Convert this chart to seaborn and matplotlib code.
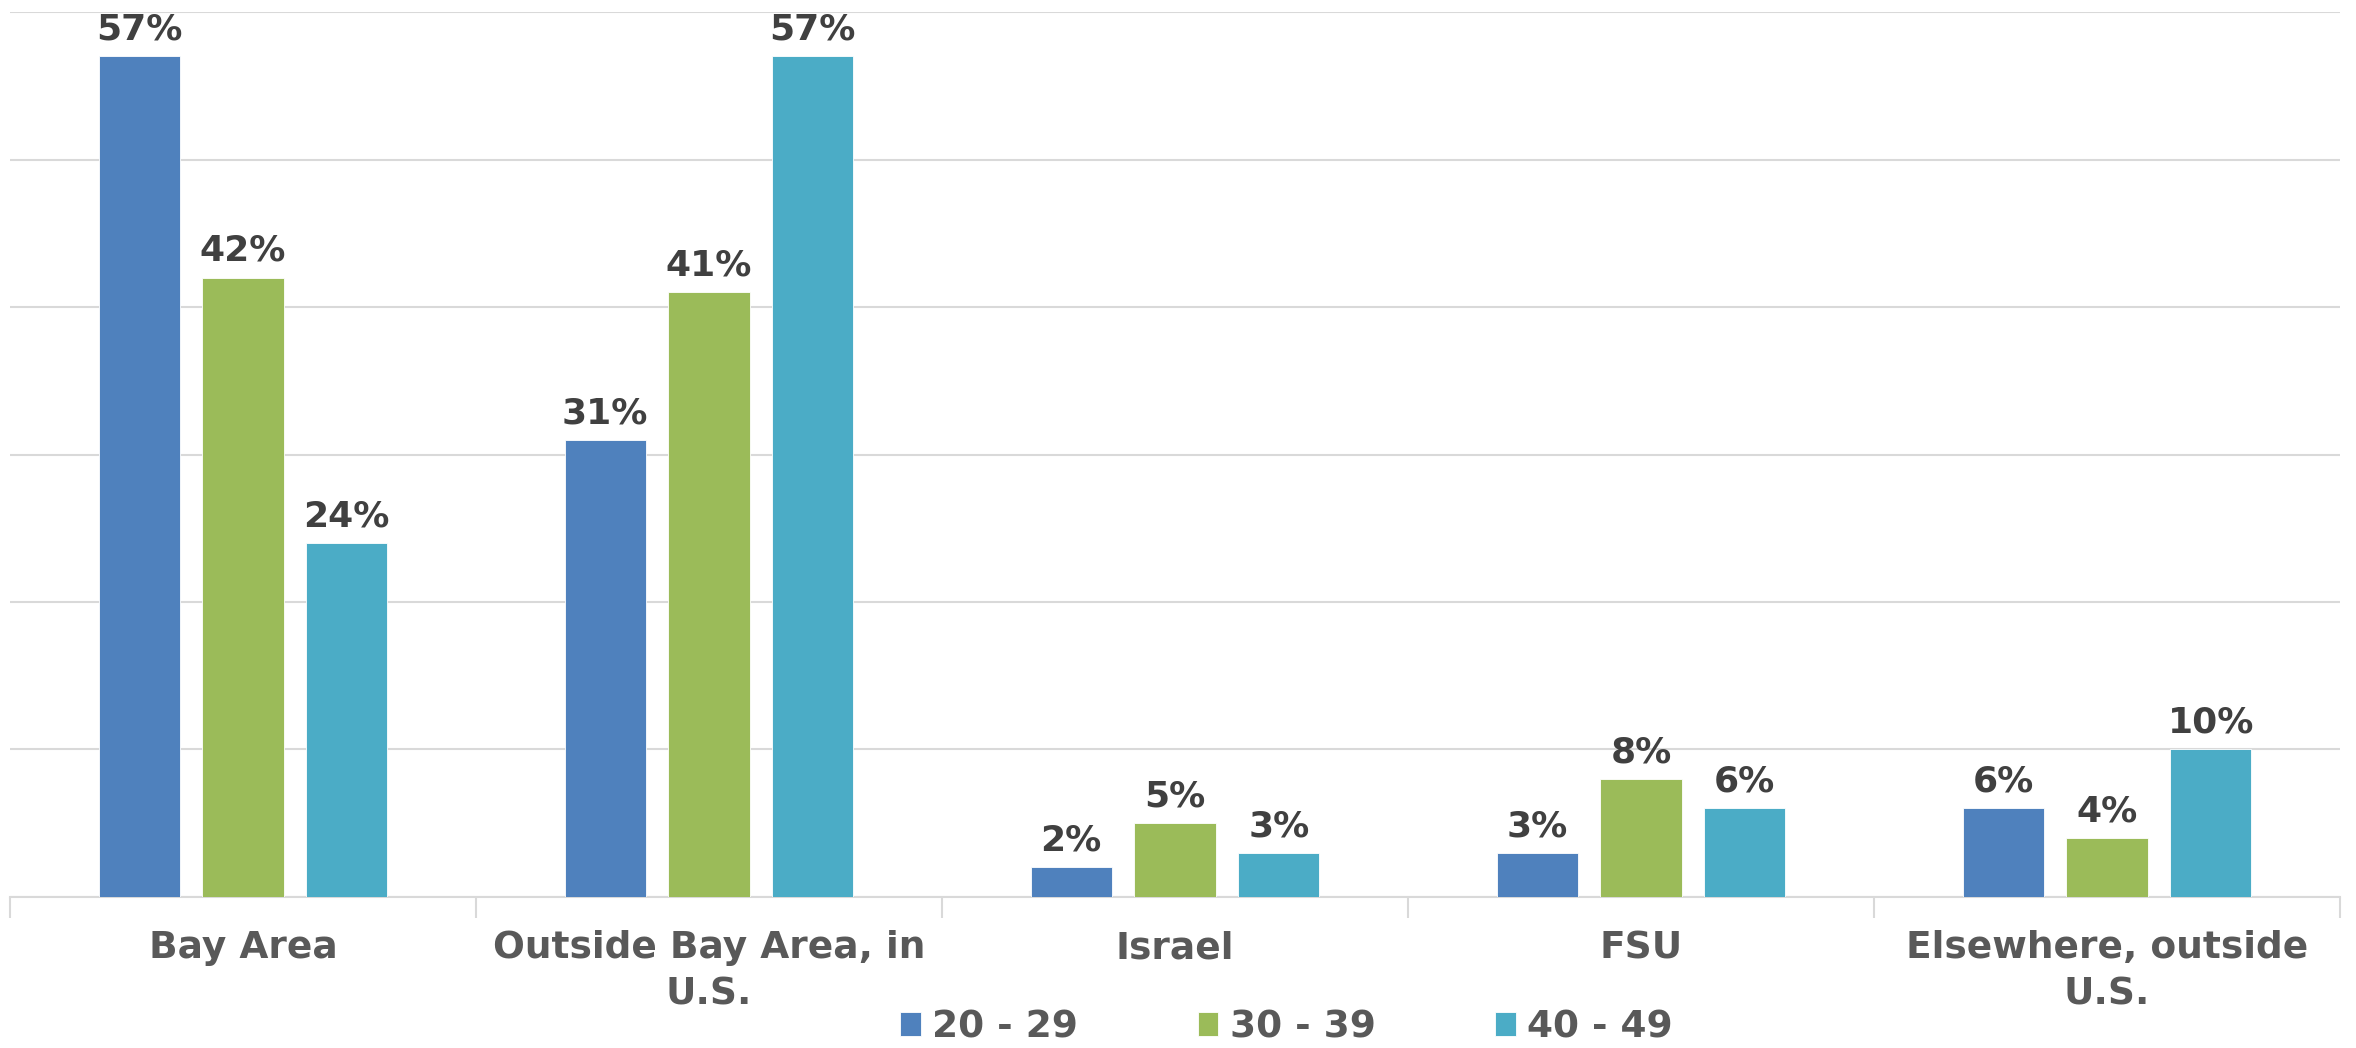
import pandas as pd
import seaborn as sns
import matplotlib.pyplot as plt
from matplotlib.ticker import MultipleLocator, FixedLocator

sns.set_theme(style="white")
plt.rcParams['font.family'] = ['DejaVu Sans']

regions = ["Bay Area", "Outside Bay Area, in\nU.S.", "Israel", "FSU",
           "Elsewhere, outside\nU.S."]
ages = ["20 - 29", "30 - 39", "40 - 49"]
share_20s = [57, 31, 2, 3, 6]
share_30s = [42, 41, 5, 8, 4]
share_40s = [24, 57, 3, 6, 10]
colors = ["#4F81BD", "#9BBB59", "#4BACC6"]

df = pd.DataFrame({
    "Region": regions * 3,
    "Age": [ages[0]] * 5 + [ages[1]] * 5 + [ages[2]] * 5,
    "Share": share_20s + share_30s + share_40s,
})

fig = plt.figure(figsize=(23.56, 10.48), dpi=100)
ax = fig.add_axes([0.0042, 0.1441, 0.9890, 0.8444])

sns.barplot(data=df, x="Region", y="Share", hue="Age", palette=colors,
            saturation=1, width=0.668, gap=0.217, errorbar=None, ax=ax,
            zorder=3, edgecolor="white", linewidth=0.6)

for cont in ax.containers:
    ax.bar_label(cont, fmt="%d%%", padding=7, fontsize=26, fontweight="bold",
                 color="#404040")

ax.set_ylim(0, 60)
ax.set_xlim(-0.5, 4.5)
ax.yaxis.set_major_locator(MultipleLocator(10))
ax.grid(axis="y", color="#D9D9D9", linewidth=1.5, zorder=0)
ax.set_yticklabels([])
ax.tick_params(axis="y", length=0)

ax.xaxis.set_minor_locator(FixedLocator([-0.5, 0.5, 1.5, 2.5, 3.5, 4.5]))
ax.tick_params(axis="x", which="major", length=0, pad=24, labelsize=27,
               labelcolor="#595959")
ax.tick_params(axis="x", which="minor", length=15, width=1.5, color="#D9D9D9",
               bottom=True)
for lbl in ax.get_xticklabels():
    lbl.set_fontweight("bold")
    lbl.set_linespacing(1.35)

ax.set_xlabel("")
ax.set_ylabel("")
for side in ["top", "right", "left"]:
    ax.spines[side].set_visible(False)
ax.spines["bottom"].set_color("#D9D9D9")
ax.spines["bottom"].set_linewidth(1.5)

handles, labels = ax.get_legend_handles_labels()
ax.legend_.remove()
leg = fig.legend(handles, labels, loc="center", bbox_to_anchor=(0.546, 0.020),
                 ncol=3, frameon=False, handlelength=0.55, handleheight=0.6,
                 handletextpad=0.3, columnspacing=3.2,
                 prop={"size": 27, "weight": "bold"})
for t in leg.get_texts():
    t.set_color("#595959")

plt.savefig("out.png", dpi=100)
